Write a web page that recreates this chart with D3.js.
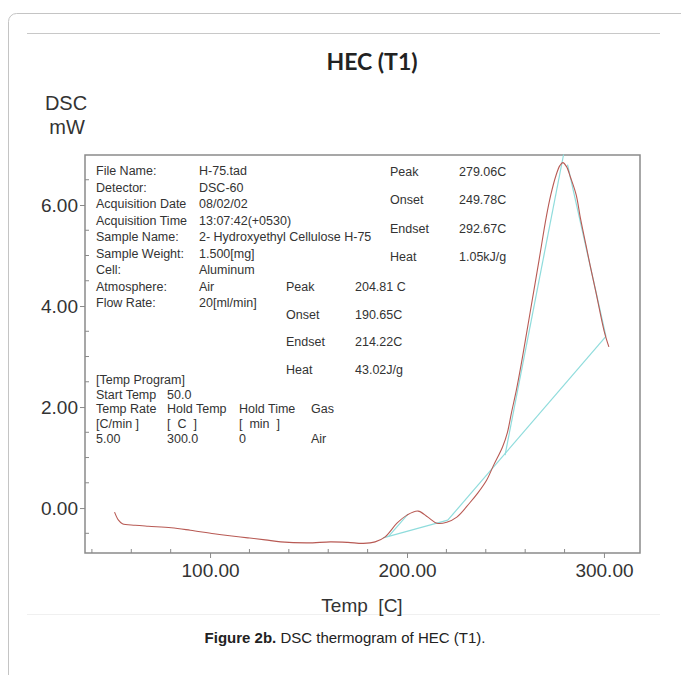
<!DOCTYPE html>
<html>
<head>
<meta charset="utf-8">
<script src="https://cdn.jsdelivr.net/npm/d3@7"></script>
<style>
  html, body { margin: 0; padding: 0; background: #fff; }
  svg { display: block; }
</style>
</head>
<body>
<script>
// ---------- data ----------
const tempC = [51.5, 53.5, 55.5, 62, 68.7, 80.3, 90, 102, 110, 119.2, 128, 135.9, 149.5, 161.1, 170, 177.8,
  183.8, 188.9, 194.9, 200, 205.6, 210.6, 215.2, 220.2, 225.3, 231.8, 236, 240.4, 244, 248.5, 251, 253,
  255.6, 258, 260, 263.6, 267, 270.7, 273, 275.6, 277.6, 279.1, 281, 283, 285.9, 288, 290.9, 293, 296, 300, 302.5];
const dscMW = [-0.08, -0.24, -0.31, -0.34, -0.36, -0.39, -0.44, -0.51, -0.55, -0.59, -0.63, -0.67, -0.69, -0.67, -0.68, -0.70,
  -0.67, -0.57, -0.30, -0.14, -0.06, -0.18, -0.30, -0.28, -0.18, 0.10, 0.30, 0.55, 0.85, 1.21, 1.50, 1.88,
  2.35, 2.85, 3.30, 4.12, 4.90, 5.76, 6.20, 6.58, 6.78, 6.84, 6.76, 6.55, 6.20, 5.75, 5.20, 4.80, 4.26, 3.52, 3.19];

// analysis lines (temperature, mW) drawn in cyan
const baselineSmallT = [187.9, 220.7];
const baselineSmallV = [-0.59, -0.24];
const baselineBigT = [220.7, 301.0];
const baselineBigV = [-0.24, 3.40];
const onsetTangentT = [249.78, 279.5];
const onsetTangentV = [1.05, 7.00];
const endsetTangentT = [281.5, 301.0];
const endsetTangentV = [6.80, 3.40];
const smallTangentT = [190.65, 200.5];
const smallTangentV = [-0.56, -0.12];

const xTicks = [100, 200, 300];
const xTickLabels = ["100.00", "200.00", "300.00"];
const yTicks = [0, 2, 4, 6];
const yTickLabels = ["0.00", "2.00", "4.00", "6.00"];

const infoLabels = ["File Name:", "Detector:", "Acquisition Date", "Acquisition Time", "Sample Name:",
  "Sample Weight:", "Cell:", "Atmosphere:", "Flow Rate:"];
const infoValues = ["H-75.tad", "DSC-60", "08/02/02", "13:07:42(+0530)", "2- Hydroxyethyl Cellulose H-75",
  "1.500[mg]", "Aluminum", "Air", "20[ml/min]"];

const peak2Labels = ["Peak", "Onset", "Endset", "Heat"];
const peak2Values = ["279.06C", "249.78C", "292.67C", "1.05kJ/g"];
const peak1Labels = ["Peak", "Onset", "Endset", "Heat"];
const peak1Values = ["204.81 C", "190.65C", "214.22C", "43.02J/g"];

const progRows = [
  ["[Temp Program]"],
  ["Start Temp", "50.0"],
  ["Temp Rate", "Hold Temp", "Hold Time", "Gas"],
  ["[C/min ]", "[  C  ]", "[  min  ]", ""],
  ["5.00", "300.0", "0", "Air"]
];

// ---------- layout ----------
const W = 681, H = 675;
const box = { left: 85, right: 640, top: 155, bottom: 553 };
const sans = "'Liberation Sans', Arial, sans-serif";
const textCol = "#333";

const svg = d3.select("body").append("svg").attr("width", W).attr("height", H);
svg.append("rect").attr("width", W).attr("height", H).attr("fill", "#fff");

// outer frame
svg.append("rect").attr("x", 8.5).attr("y", 13.5).attr("width", W + 20).attr("height", H + 20)
  .attr("rx", 8).attr("fill", "none").attr("stroke", "#c4c4c4").attr("stroke-width", 1);
svg.append("line").attr("x1", 27).attr("x2", 660).attr("y1", 33.5).attr("y2", 33.5)
  .attr("stroke", "#c8c8c8").attr("stroke-width", 1);
svg.append("line").attr("x1", 27).attr("x2", 660).attr("y1", 614.5).attr("y2", 614.5)
  .attr("stroke", "#f0f0f0").attr("stroke-width", 1);

const x = d3.scaleLinear().domain([36.5, 318.3]).range([box.left, box.right]);
const y = d3.scaleLinear().domain([-0.89, 6.99]).range([box.bottom, box.top]);

// title & labels
svg.append("text").attr("x", 372).attr("y", 70).attr("text-anchor", "middle")
  .attr("font-family", "Lato, 'Open Sans', sans-serif").attr("font-weight", "bold")
  .attr("font-size", 23).attr("fill", "#222").text("HEC (T1)");
svg.append("text").attr("x", 66).attr("y", 110).attr("text-anchor", "middle")
  .attr("font-family", sans).attr("font-size", 20).attr("fill", textCol).text("DSC");
svg.append("text").attr("x", 67).attr("y", 134).attr("text-anchor", "middle")
  .attr("font-family", sans).attr("font-size", 20).attr("fill", textCol).text("mW");

// plot box
svg.append("rect").attr("x", box.left).attr("y", box.top)
  .attr("width", box.right - box.left).attr("height", box.bottom - box.top)
  .attr("fill", "none").attr("stroke", "#8a8a8a").attr("stroke-width", 1.5);

// axes
const xAxis = d3.axisBottom(x).tickValues(xTicks).tickFormat((d, i) => xTickLabels[i]).tickSize(5).tickPadding(6);
const gx = svg.append("g").attr("transform", `translate(0,${box.bottom})`).call(xAxis);
const yAxis = d3.axisLeft(y).tickValues(yTicks).tickFormat((d, i) => yTickLabels[i]).tickSize(5).tickPadding(2);
const gy = svg.append("g").attr("transform", `translate(${box.left},0)`).call(yAxis);
[gx, gy].forEach(g => {
  g.select(".domain").remove();
  g.selectAll("line").attr("stroke", "#8a8a8a");
  g.selectAll("text").attr("font-family", sans).attr("font-size", 19).attr("fill", textCol);
});

// minor ticks
const xMinor = d3.range(40, 318, 20).filter(v => !xTicks.includes(v));
svg.append("g").selectAll("line").data(xMinor).join("line")
  .attr("x1", d => x(d)).attr("x2", d => x(d))
  .attr("y1", box.bottom).attr("y2", box.bottom - 4)
  .attr("stroke", "#8a8a8a");
const yMinor = d3.range(-0.5, 7.0, 0.5).filter(v => !yTicks.includes(v));
svg.append("g").selectAll("line").data(yMinor).join("line")
  .attr("x1", box.left).attr("x2", box.left + 4)
  .attr("y1", d => y(d)).attr("y2", d => y(d))
  .attr("stroke", "#8a8a8a");

svg.append("text").attr("x", 362).attr("y", 612).attr("text-anchor", "middle")
  .attr("font-family", sans).attr("font-size", 19).attr("fill", textCol)
  .attr("xml:space", "preserve").style("white-space", "pre").text("Temp  [C]");

// cyan analysis lines
const seg = (T, V) => T.map((t, i) => [t, V[i]]);
const lineGen = d3.line().x(d => x(d[0])).y(d => y(d[1]));
const cyan = "#8fdcdc";
[[baselineSmallT, baselineSmallV], [baselineBigT, baselineBigV], [onsetTangentT, onsetTangentV],
 [endsetTangentT, endsetTangentV], [smallTangentT, smallTangentV]].forEach(([T, V]) => {
  svg.append("path").attr("d", lineGen(seg(T, V))).attr("fill", "none")
    .attr("stroke", cyan).attr("stroke-width", 1.2);
});

// DSC curve
const curveGen = d3.line().x(d => x(d[0])).y(d => y(d[1])).curve(d3.curveCatmullRom.alpha(0.5));
svg.append("path").attr("d", curveGen(seg(tempC, dscMW))).attr("fill", "none")
  .attr("stroke", "#b85a54").attr("stroke-width", 1.1);

// info text
const txt = (xx, yy, s, size) => svg.append("text").attr("x", xx).attr("y", yy)
  .attr("font-family", sans).attr("font-size", size || 12.5).attr("fill", textCol)
  .attr("xml:space", "preserve").style("white-space", "pre").text(s);

infoLabels.forEach((s, i) => {
  txt(96, 175 + i * 16.5, s);
  txt(199, 175 + i * 16.5, infoValues[i]);
});
peak2Labels.forEach((s, i) => {
  txt(390, 176 + i * 28.3, s);
  txt(459, 176 + i * 28.3, peak2Values[i]);
});
peak1Labels.forEach((s, i) => {
  txt(286, 291 + i * 27.5, s);
  txt(355, 291 + i * 27.5, peak1Values[i]);
});
const progX = [96, 167, 239, 311];
progRows.forEach((row, r) => {
  row.forEach((s, c) => txt(progX[c], 384 + r * 14.7, s));
});

// caption
const cap = svg.append("text").attr("x", 345).attr("y", 643).attr("text-anchor", "middle")
  .attr("font-family", sans).attr("font-size", 15).attr("fill", "#222");
cap.append("tspan").attr("font-weight", "bold").text("Figure 2b.");
cap.append("tspan").text(" DSC thermogram of HEC (T1).");
</script>
</body>
</html>
